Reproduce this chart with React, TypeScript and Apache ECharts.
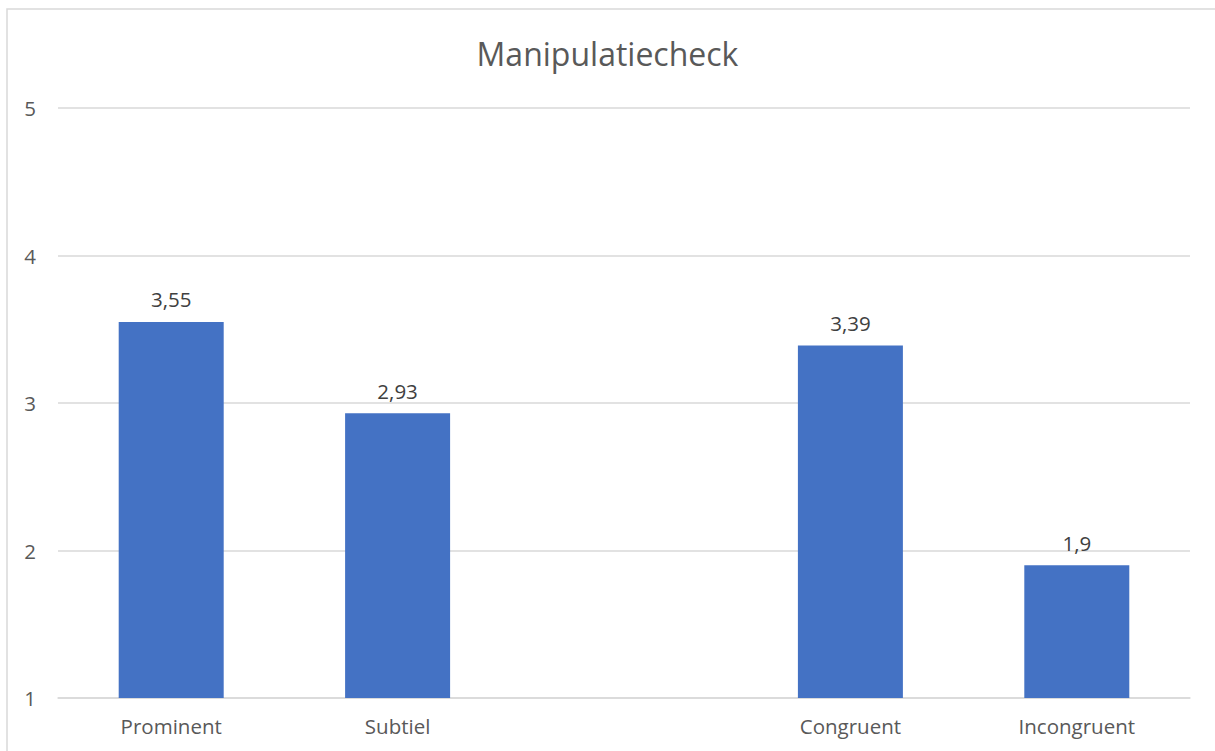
import React, { useEffect, useRef } from "react";
import * as echarts from "echarts";

const categories = ["Prominent", "Subtiel", "", "Congruent", "Incongruent"];
const values: (number | null)[] = [3.55, 2.93, null, 3.39, 1.9];
const title = "Manipulatiecheck";

export default function App() {
  const ref = useRef<HTMLDivElement>(null);
  useEffect(() => {
    if (!ref.current) return;
    const chart = echarts.init(ref.current, null, { renderer: "svg" });
    const font = "'Open Sans', 'Noto Sans', sans-serif";
    chart.setOption({
      animation: false,
      backgroundColor: "#ffffff",
      title: {
        text: title,
        left: "center",
        top: 32,
        textStyle: { color: "#595959", fontSize: 32, fontWeight: "normal", fontFamily: font },
      },
      graphic: [
        {
          type: "rect",
          shape: { x: 7, y: 9, width: 1230, height: 770 },
          style: { fill: "none", stroke: "#d9d9d9", lineWidth: 1.5 },
          silent: true,
        },
      ],
      grid: { left: 58, right: 25, top: 108, bottom: 53 },
      xAxis: {
        type: "category",
        data: categories,
        axisLine: { lineStyle: { color: "#d9d9d9", width: 1.5 } },
        axisTick: { show: false },
        axisLabel: { color: "#595959", fontSize: 20.5, fontFamily: font, margin: 17 },
      },
      yAxis: {
        type: "value",
        min: 1,
        max: 5,
        interval: 1,
        axisLine: { show: false },
        axisTick: { show: false },
        splitLine: { lineStyle: { color: "#d9d9d9", width: 1.5 } },
        axisLabel: { color: "#595959", fontSize: 20.5, fontFamily: font, margin: 22 },
      },
      series: [
        {
          type: "bar",
          data: values,
          barWidth: 105,
          itemStyle: { color: "#4472C4" },
          label: {
            show: true,
            position: "top",
            distance: 12,
            color: "#404040",
            fontSize: 20.5,
            fontFamily: font,
            formatter: (p: any) => String(p.value).replace(".", ","),
          },
        },
      ],
    });
    return () => chart.dispose();
  }, []);
  return (
    <div
      ref={ref}
      style={{ position: "fixed", left: 0, top: 0, width: 1215, height: 751 }}
    />
  );
}
